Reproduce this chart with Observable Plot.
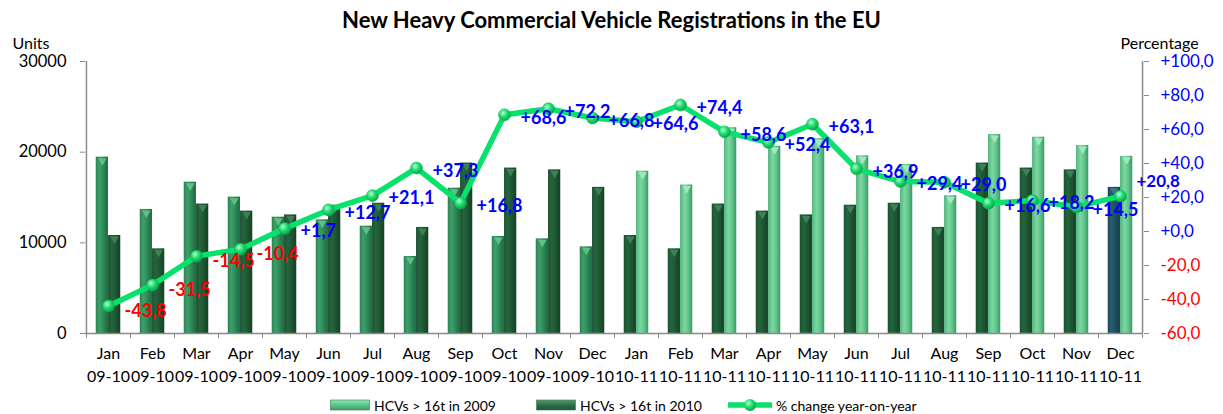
<!DOCTYPE html>
<html><head><meta charset="utf-8">
<script src="https://cdn.jsdelivr.net/npm/d3@7"></script>
<script src="https://cdn.jsdelivr.net/npm/@observablehq/plot@0.6"></script>
<style>
body{margin:0;background:#fff;font-family:Lato,"Open Sans",sans-serif;}
#wrap{width:1223px;height:414px;position:relative;overflow:hidden;background:#fff}
#title{height:30px;box-sizing:border-box;padding-top:9px;line-height:22px;text-align:center;font-weight:bold;font-size:22px;color:#000;white-space:nowrap}
#legend{position:absolute;left:0;top:395px;width:1223px;height:20px;font-size:14px;color:#000}
.item{position:absolute;top:0;height:20px;display:flex;align-items:center;white-space:nowrap}
.item svg{margin-right:4px}
</style></head>
<body><div id="wrap"><div id="title">New Heavy Commercial Vehicle Registrations in the EU</div><div id="chart"></div><div id="legend"></div></div>
<script>
// ---- data ----
const months = ["Jan","Feb","Mar","Apr","May","Jun","Jul","Aug","Sep","Oct","Nov","Dec"];
const periods = ["09-10","10-11"];
const hcv2009 = [19450,13680,16690,15040,12830,12540,11840,8490,16030,10700,10440,9560];
const hcv2010 = [10810,9340,14280,13500,13080,14150,14370,11700,18800,18250,18050,16120];
const hcv2011 = [17900,16380,22700,20650,21500,19600,18640,15200,21950,21650,20740,19540];
const pct0910 = [-43.8,-31.5,-14.5,-10.4,1.7,12.7,21.1,37.3,16.8,68.6,72.2,66.8];
const pct1011 = [64.6,74.4,58.6,52.4,63.1,36.9,29.4,29.0,16.6,18.2,14.5,20.8];
const unitTicks = [0,10000,20000,30000];
const pctTicks = [-60,-40,-20,0,20,40,60,80,100];
const legendLabels = ["HCVs > 16t in 2009","HCVs > 16t in 2010","% change year-on-year"];

// ---- build table ----
const rows = [];
periods.forEach((per, p) => months.forEach((m, i) => rows.push({
  key: m + " " + per, month: m, period: per, p, last: p === 1 && i === 11,
  left: p === 0 ? hcv2009[i] : hcv2010[i],
  right: p === 0 ? hcv2010[i] : hcv2011[i],
  pct: p === 0 ? pct0910[i] : pct1011[i]
})));
const keys = rows.map(d => d.key);

const W = 1223, H = 360, mL = 85, mR = 80, mT = 31, mB = 57;
const bw = (W - mL - mR) / keys.length;
const barW = 12.3;
const inA = bw / 2 - barW, inB = bw / 2;
const pctMin = -60, pctMax = 100, uMax = 30000;
const pctToUnits = p => (p - pctMin) / (pctMax - pctMin) * uMax;
const fmtPct = p => (p < 0 ? "-" : "+") + Math.abs(p).toFixed(1).replace(".", ",");
const axisGrey = "#8a8a8a";

const leftBar = (filter, fill) => Plot.barY(rows, {filter, x: "key", y: "left", fill, insetLeft: inA, insetRight: inB});
const rightBar = (filter, fill) => Plot.barY(rows, {filter, x: "key", y: "right", fill, insetLeft: inB, insetRight: inA});
const cap = (filter, yk, side, fill) => Plot.dot(rows, {filter, x: "key", y: yk, symbol: "triangle", rotate: 180, r: 3.2, dx: side * barW / 2, dy: 3.5, fill, stroke: "none"});
const valLabel = (filter, fill, dy, fontSize = 18) => Plot.text(rows, {filter, x: "key", y: d => pctToUnits(d.pct), text: d => fmtPct(d.pct), dx: 16, dy, textAnchor: "start", fill, fontWeight: "bold", fontSize});

const chart = Plot.plot({
  width: W, height: H,
  marginLeft: mL, marginRight: mR, marginTop: mT, marginBottom: mB,
  style: {fontFamily: "Lato, 'Open Sans', sans-serif", fontSize: "16px", background: "transparent", overflow: "visible"},
  x: {domain: keys, padding: 0, axis: null},
  y: {domain: [0, uMax], axis: null},
  marks: [
    // bars
    leftBar(d => d.p === 0, "url(#gMid)"),
    leftBar(d => d.p === 1 && !d.last, "url(#gDark)"),
    leftBar(d => d.last, "url(#gTeal)"),
    rightBar(d => d.p === 0, "url(#gDark)"),
    rightBar(d => d.p === 1, "url(#gLight)"),
    cap(d => d.p === 0, "left", -1, "#5fbf86"),
    cap(d => d.p === 1 && !d.last, "left", -1, "#3f7f58"),
    cap(d => d.last, "left", -1, "#3f7585"),
    cap(d => d.p === 0, "right", 1, "#3f7f58"),
    cap(d => d.p === 1, "right", 1, "#a4e8c0"),
    // axes lines
    Plot.ruleY([0], {stroke: axisGrey, strokeWidth: 1.5}),
    Plot.ruleX([keys[0]], {x: d => d, y1: 0, y2: uMax, dx: -bw / 2, stroke: axisGrey, strokeWidth: 1.5}),
    Plot.ruleX([keys[keys.length - 1]], {x: d => d, y1: 0, y2: uMax, dx: bw / 2, stroke: axisGrey, strokeWidth: 1.5}),
    // category boundary ticks
    Plot.ruleX(keys, {x: d => d, y1: 0, y2: -560, dx: -bw / 2, stroke: axisGrey}),
    Plot.ruleX([keys[keys.length - 1]], {x: d => d, y1: 0, y2: -560, dx: bw / 2, stroke: axisGrey}),
    // left axis
    Plot.axisY(unitTicks, {anchor: "left", tickSize: 5, tickPadding: 14, tickFormat: d3.format("d"), stroke: axisGrey, fill: "#000", fontSize: 16.5}),
    // right axis
    Plot.axisY(pctTicks.map(pctToUnits), {anchor: "right", tickSize: 5, tickFormat: () => "", stroke: axisGrey}),
    Plot.text(pctTicks.filter(t => t >= 0), {y: pctToUnits, text: fmtPct, frameAnchor: "right", dx: 17, textAnchor: "start", fill: "#0000ff", fontSize: 17}),
    Plot.text(pctTicks.filter(t => t < 0), {y: pctToUnits, text: fmtPct, frameAnchor: "right", dx: 17, textAnchor: "start", fill: "#ff0000", fontSize: 17}),
    // x labels
    Plot.text(rows, {x: "key", text: "month", frameAnchor: "bottom", dy: 25, fill: "#000", fontSize: 16}),
    Plot.text(rows, {x: "key", text: "period", frameAnchor: "bottom", dy: 48, fill: "#000", fontSize: 16}),
    // axis titles
    Plot.text(["Units"], {frameAnchor: "top-left", dx: -73, dy: -24, textAnchor: "start", fontSize: 16, fill: "#000"}),
    Plot.text(["Percentage"], {frameAnchor: "top-right", dx: -23, dy: -24, textAnchor: "start", fontSize: 16, fill: "#000"}),
    // line
    Plot.line(rows, {x: "key", y: d => pctToUnits(d.pct), stroke: "#08e26c", strokeWidth: 5.5, curve: "linear"}),
    Plot.dot(rows, {x: "key", y: d => pctToUnits(d.pct), r: 6, fill: "url(#gBall)", stroke: "#0bb857", strokeWidth: 0.6}),
    // value labels
    valLabel(d => d.pct >= 0 && !d.last, "#0000ff", 3),
    valLabel(d => d.last, "#0000ff", -15, 17),
    valLabel(d => d.pct < 0, "#ff0000", 5)
  ]
});

const defs = `
<defs>
 <linearGradient id="gMid" x1="0" x2="1" y1="0" y2="0">
  <stop offset="0" stop-color="#2a8252"/><stop offset="0.3" stop-color="#3d9f69"/><stop offset="0.6" stop-color="#2e8c58"/><stop offset="1" stop-color="#1d6740"/>
 </linearGradient>
 <linearGradient id="gDark" x1="0" x2="1" y1="0" y2="0">
  <stop offset="0" stop-color="#1b5230"/><stop offset="0.3" stop-color="#25653d"/><stop offset="0.6" stop-color="#1e5834"/><stop offset="1" stop-color="#143f25"/>
 </linearGradient>
 <linearGradient id="gLight" x1="0" x2="1" y1="0" y2="0">
  <stop offset="0" stop-color="#4fb47b"/><stop offset="0.35" stop-color="#7dd7a2"/><stop offset="0.65" stop-color="#62c78d"/><stop offset="1" stop-color="#3c9865"/>
 </linearGradient>
 <linearGradient id="gTeal" x1="0" x2="1" y1="0" y2="0">
  <stop offset="0" stop-color="#1a4856"/><stop offset="0.3" stop-color="#265e6e"/><stop offset="0.6" stop-color="#1e5060"/><stop offset="1" stop-color="#143a46"/>
 </linearGradient>
 <radialGradient id="gBall" cx="0.38" cy="0.35" r="0.7">
  <stop offset="0" stop-color="#b6ffd2"/><stop offset="0.45" stop-color="#1fe070"/><stop offset="1" stop-color="#089c45"/>
 </radialGradient>
</defs>`;
chart.insertAdjacentHTML("afterbegin", defs);
document.getElementById("chart").appendChild(chart);

// ---- legend ----
const lg = document.getElementById("legend");
const sw = (g1, g2, g3) => `<svg width="40" height="12"><defs><linearGradient id="lg${g1.slice(1)}" x1="0" x2="0" y1="0" y2="1"><stop offset="0" stop-color="${g1}"/><stop offset="0.5" stop-color="${g2}"/><stop offset="1" stop-color="${g3}"/></linearGradient></defs><rect x="0.5" y="1" width="39" height="10" fill="url(#lg${g1.slice(1)})" stroke="#3a7a52" stroke-width="0.6"/></svg>`;
const lineSw = `<svg width="44" height="14"><defs><radialGradient id="lgBall" cx="0.38" cy="0.35" r="0.7"><stop offset="0" stop-color="#b6ffd2"/><stop offset="0.45" stop-color="#1fe070"/><stop offset="1" stop-color="#089c45"/></radialGradient></defs><line x1="1" x2="43" y1="7" y2="7" stroke="#08e26c" stroke-width="5.5" stroke-linecap="round"/><circle cx="22" cy="7" r="6" fill="url(#lgBall)"/></svg>`;
const items = [
  {left: 330, html: sw("#8fe3b2", "#5cc58a", "#3e9d67") + legendLabels[0]},
  {left: 536, html: sw("#5a9a73", "#2e6e48", "#1e5433") + legendLabels[1]},
  {left: 728, html: lineSw + legendLabels[2]}
];
items.forEach(it => {
  const d = document.createElement("div");
  d.className = "item"; d.style.left = it.left + "px"; d.innerHTML = it.html;
  lg.appendChild(d);
});
</script>
</body></html>
